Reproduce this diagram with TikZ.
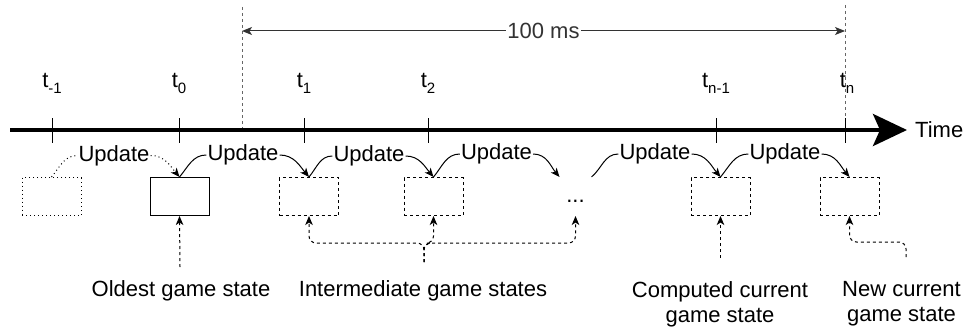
\documentclass[tikz,border=0pt]{standalone}
\usepackage{fontspec}
\setmainfont{Liberation Sans}
\usetikzlibrary{arrows.meta}
\newcommand{\mysub}[1]{\raisebox{-6pt}{\fontsize{15}{15}\selectfont #1}}
\tikzset{
  box/.style={minimum width=59pt, minimum height=38pt, inner sep=0pt, line width=1pt},
  dashbox/.style={box, draw, dash pattern=on 3pt off 3pt},
  dotbox/.style={box, draw, dash pattern=on 1pt off 3pt},
  solidbox/.style={box, draw},
  upd/.style={inner sep=1pt, fill=white},
  conn/.style={line width=1pt},
  tip/.style={-{Stealth[length=9pt,width=7.5pt,inset=2.5pt]}},
  annot/.style={conn, tip, dash pattern=on 3pt off 3pt, rounded corners=7pt},
  vline/.style={line width=1pt, black!60, dash pattern=on 3pt off 3pt},
  tlabel/.style={anchor=base, inner sep=0pt},
}
\begin{document}
\begin{tikzpicture}[x=1pt,y=1pt, font=\fontsize{22}{25}\selectfont]
\useasboundingbox (0,0) rectangle (971,-329);

% dashed verticals and 100 ms
\coordinate (v0t) at (242,-7);
\coordinate (v0b) at (242,-130);
\coordinate (v1t) at (845,-5);
\coordinate (v1b) at (845,-142);
\draw[vline] (v0t) -- (v0b);
\draw[vline] (v1t) -- (v1b);
\coordinate (m0) at (242,-31);
\coordinate (m1) at (845,-31);
\draw[conn, black!80, {Stealth[length=10pt,width=8pt,inset=2.5pt]}-{Stealth[length=10pt,width=8pt,inset=2.5pt]}]
  (m0) -- node[fill=white, inner sep=1pt] (ms) {100 ms} (m1);

% timeline
\coordinate (tl0) at (10,-130);
\coordinate (tl1) at (907,-130);
\draw[line width=4pt, -{Stealth[length=34pt,width=32pt,inset=7pt]}] (tl0) -- (tl1);
\node[anchor=west, inner sep=0pt] (time) at (915,-130) {Time};

% ticks
\foreach \x in {52,179,304,428,716,845}
  \draw[line width=1pt] (\x,-118) -- (\x,-143);

% tick labels
\node[tlabel] (lm1) at (52,-87) {t\mysub{-1}};
\node[tlabel] (l0) at (179,-87) {t\mysub{0}};
\node[tlabel] (l1) at (304,-87) {t\mysub{1}};
\node[tlabel] (l2) at (428,-87) {t\mysub{2}};
\node[tlabel] (ln1) at (716,-87) {t\mysub{n-1}};
\node[tlabel] (ln) at (847,-87) {t\mysub{n}};

% states
\node[dotbox] (bm1) at (51.5,-196.5) {};
\node[solidbox] (b0) at (179.5,-196.5) {};
\node[dashbox] (b1) at (309,-196.5) {};
\node[dashbox] (b2) at (433.5,-196.5) {};
\node[box, minimum width=31pt, text height=12pt, text depth=0pt] (dots) at (575.5,-196.5) {...};
\node[dashbox] (bn1) at (720.5,-196.5) {};
\node[dashbox] (bn) at (849.5,-196.5) {};

% update labels
\node[upd] (u1) at (114,-155.5) {Update};
\node[upd] (u2) at (243,-155) {Update};
\node[upd] (u3) at (369,-156) {Update};
\node[upd] (u4) at (496.5,-154) {Update};
\node[upd] (u5) at (655,-154) {Update};
\node[upd] (u6) at (785,-154) {Update};

% update connectors
\draw[conn, dash pattern=on 1pt off 3pt] (bm1.north) to[out=50,in=180] (u1.west);
\draw[conn, tip, dash pattern=on 1pt off 3pt] (u1.east) to[out=0,in=130] (b0.north);
\draw[conn] (b0.north) to[out=50,in=180] (u2.west);
\draw[conn, tip] (u2.east) to[out=0,in=130] (b1.north);
\draw[conn] (b1.north) to[out=50,in=180] (u3.west);
\draw[conn, tip] (u3.east) to[out=0,in=130] (b2.north);
\draw[conn] (b2.north) to[out=50,in=180] (u4.west);
\draw[conn, tip] (u4.east) to[out=0,in=130] (dots.north west);
\draw[conn] (dots.north east) to[out=40,in=180] (u5.west);
\draw[conn, tip] (u5.east) to[out=0,in=130] (bn1.north);
\draw[conn] (bn1.north) to[out=50,in=180] (u6.west);
\draw[conn, tip] (u6.east) to[out=0,in=130] (bn.north);

% annotation labels
\node (lo) at (181,-291) {Oldest game state};
\node (li) at (423,-291) {Intermediate game states};
\node[align=center] (lc) at (720,-304) {Computed current\\game state};
\node[align=center] (lnw) at (901.5,-304) {New current\\game state};

% annotation arrows
\coordinate (co) at (180,-267);
\coordinate (ci) at (424,-262);
\coordinate (cc) at (720.5,-258);
\coordinate (cn) at (906,-257);
\draw[annot] (co) -- (b0.south);
\draw[annot] (ci) -- ++(0,19) -| (b1.south);
\draw[annot] (ci) -- ++(0,19) -| (b2.south);
\draw[annot] (ci) -- ++(0,19) -| (dots.south);
\draw[annot] (cc) -- (bn1.south);
\draw[annot] (cn) -- ++(0,15) -| (bn.south);
\end{tikzpicture}
\end{document}
